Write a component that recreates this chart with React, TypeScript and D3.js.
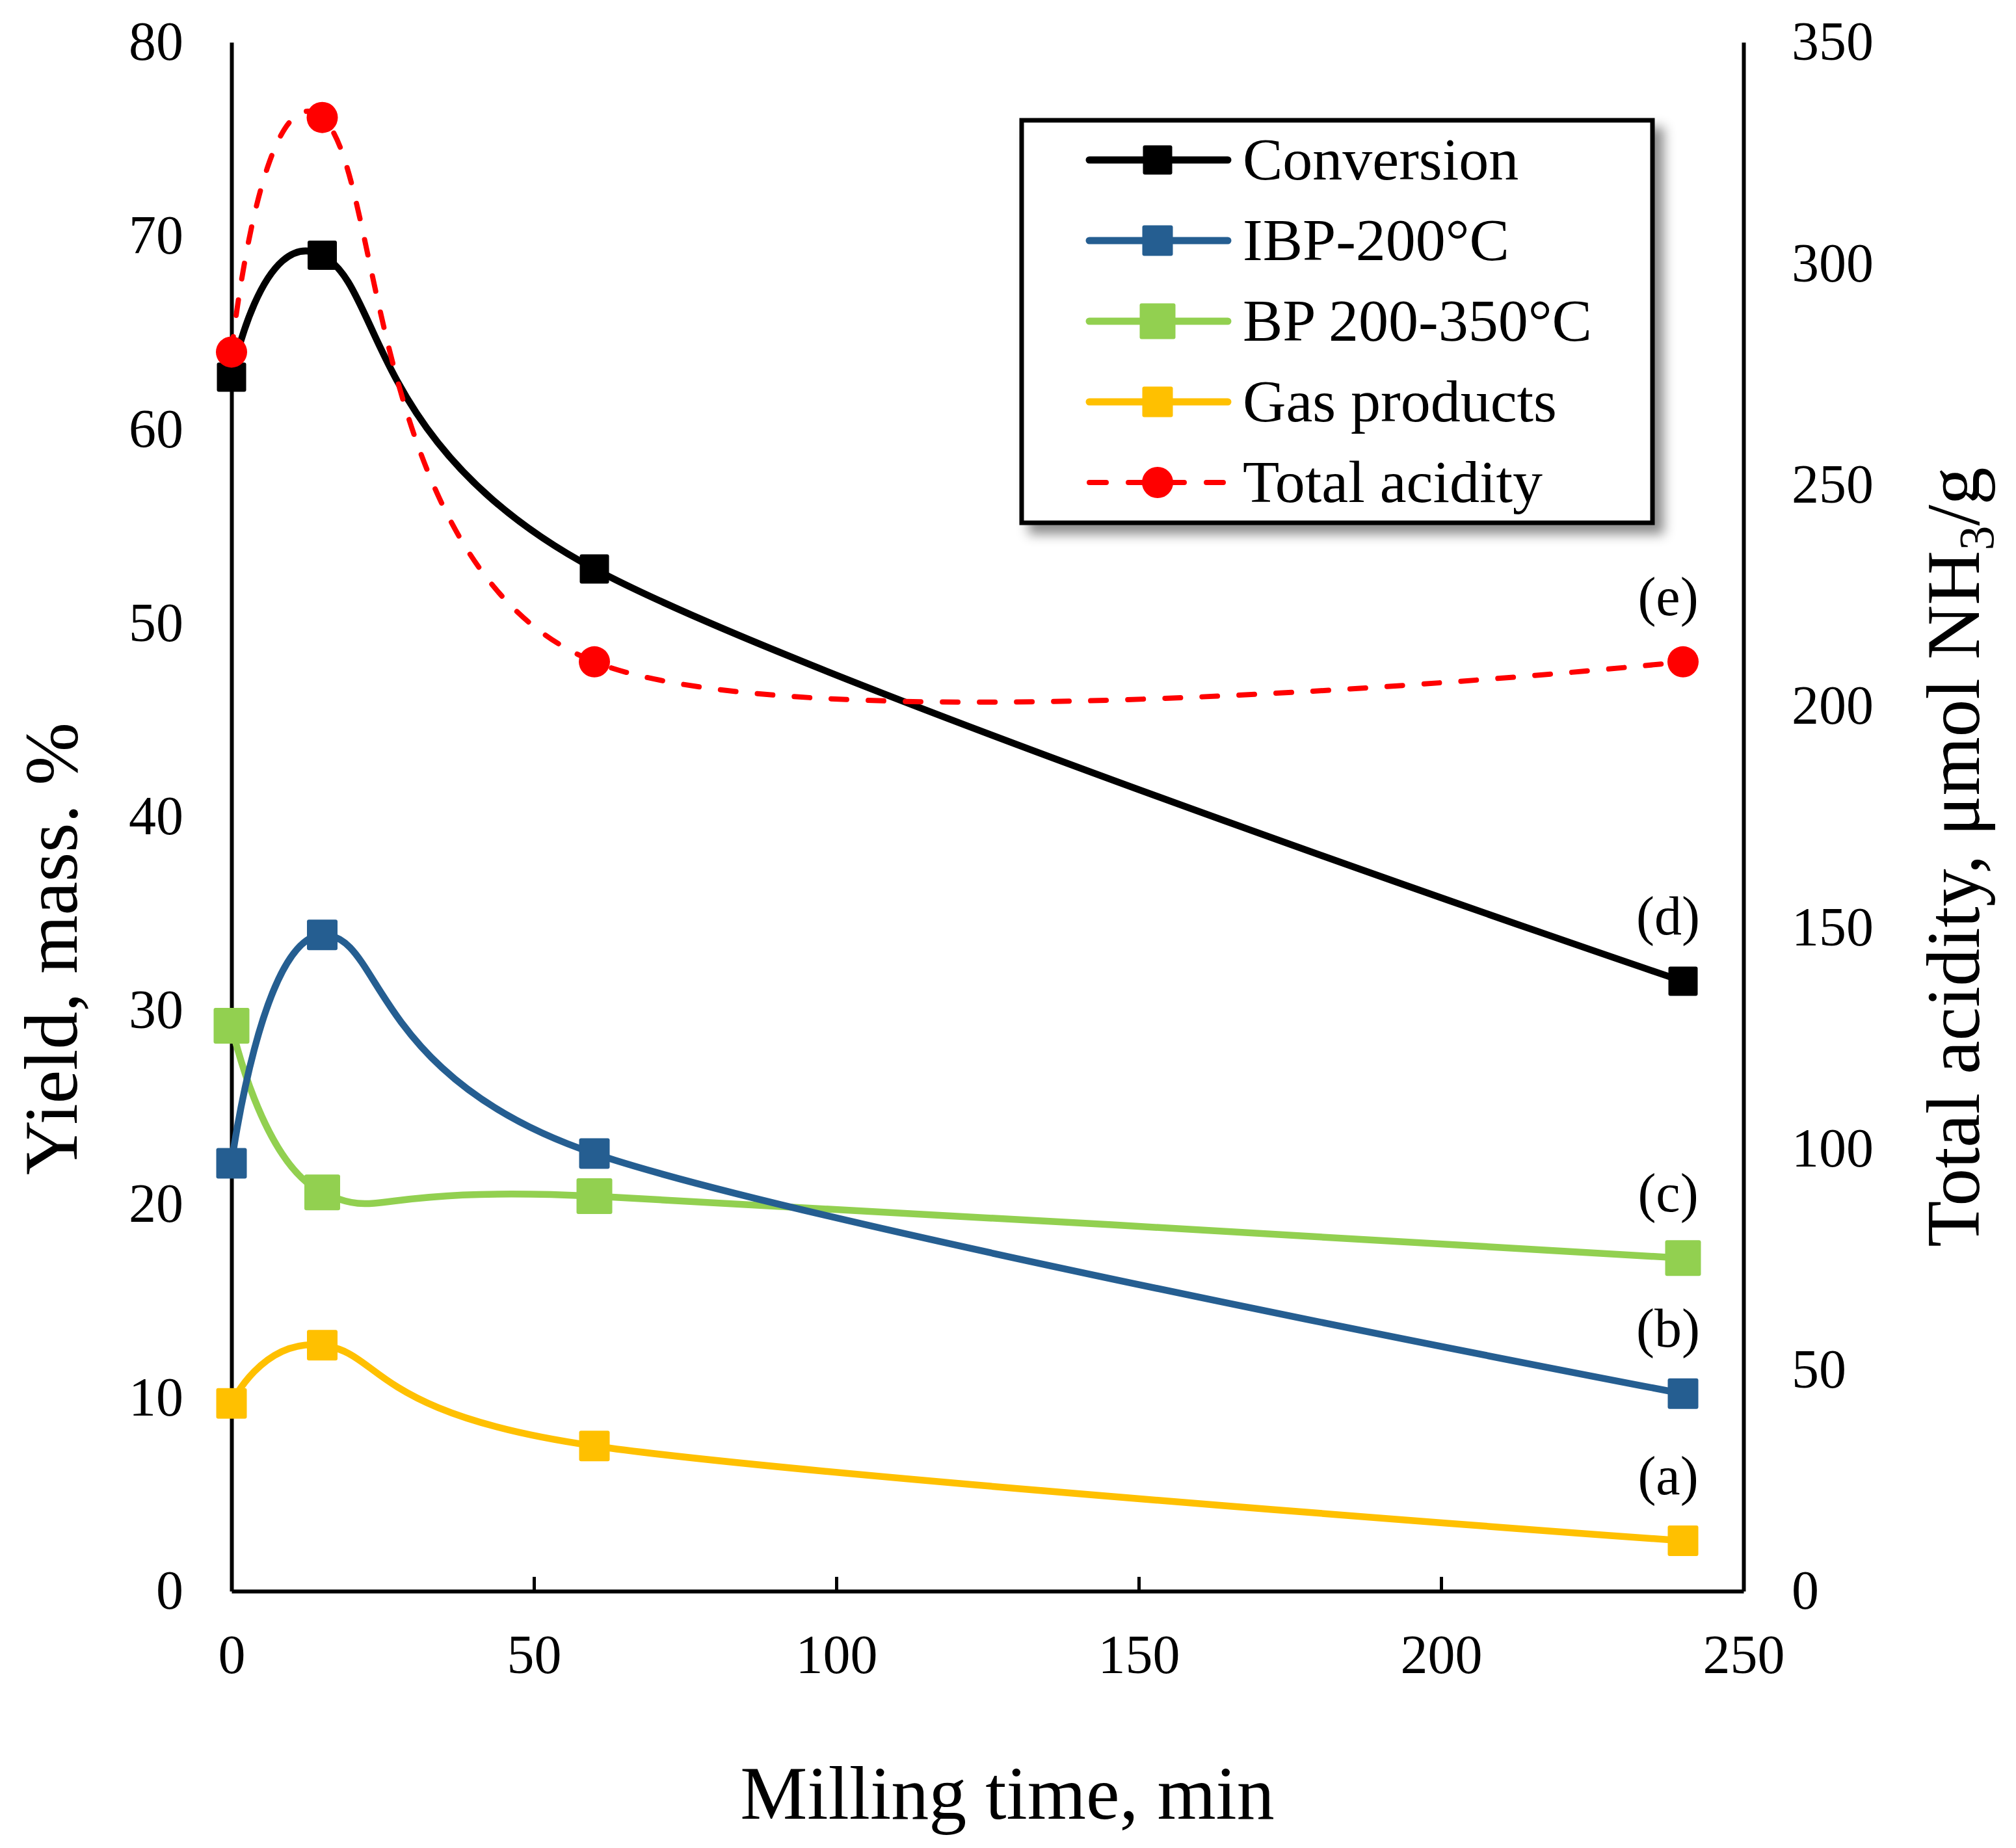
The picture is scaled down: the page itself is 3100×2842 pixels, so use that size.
import React, { useEffect, useRef } from 'react';
import * as d3 from 'd3';

// milling time, min
const millingTime = [0, 15, 60, 240];

// yield, mass. % (left axis)
const conversion = [62.7, 69.0, 52.8, 31.5];
const ibp200 = [22.1, 33.9, 22.6, 10.2];
const bp200350 = [29.2, 20.6, 20.4, 17.2];
const gasProducts = [9.7, 12.7, 7.5, 2.6];

// total acidity, umol NH3/g (right axis)
const totalAcidity = [280, 333, 210, 210];

const xTicks = [0, 50, 100, 150, 200, 250];
const yLeftTicks = [0, 10, 20, 30, 40, 50, 60, 70, 80];
const yRightTicks = [0, 50, 100, 150, 200, 250, 300, 350];

const legendNames = ['Conversion', 'IBP-200°C', 'BP 200-350°C', 'Gas products', 'Total acidity'];
const curveLabels = ['(d)', '(b)', '(c)', '(a)', '(e)'];

const W = 3100;
const H = 2842;
const FONT = '"Liberation Serif", "Times New Roman", serif';

const App: React.FC = () => {
  const svgRef = useRef<SVGSVGElement | null>(null);

  useEffect(() => {
    if (!svgRef.current) return;
    const svg = d3.select(svgRef.current);
    svg.selectAll('*').remove();

    const x = d3.scaleLinear().domain([0, 250]).range([356, 2681]);
    const yL = d3.scaleLinear().domain([0, 80]).range([2447, 65]);
    const yR = d3.scaleLinear().domain([0, 350]).range([2447, 65]);

    const defs = svg.append('defs');
    const f = defs.append('filter').attr('id', 'shadow')
      .attr('x', '-10%').attr('y', '-10%').attr('width', '130%').attr('height', '130%');
    f.append('feDropShadow')
      .attr('dx', 14).attr('dy', 14).attr('stdDeviation', 9)
      .attr('flood-color', '#000').attr('flood-opacity', 0.45);

    // axes
    const styleAxis = (g: any) => {
      g.attr('font-family', FONT).attr('font-size', 84);
      g.select('.domain').attr('stroke-width', 6).attr('stroke', '#000');
      g.selectAll('.tick line').attr('stroke-width', 5);
      g.selectAll('.tick text').attr('fill', '#000');
    };

    svg.append('g')
      .attr('transform', `translate(0,${yL(0)})`)
      .call(d3.axisBottom(x).tickValues(xTicks).tickSizeInner(-22).tickSizeOuter(0).tickPadding(66))
      .call(styleAxis);

    svg.append('g')
      .attr('transform', `translate(${x(0)},0)`)
      .call(d3.axisLeft(yL).tickValues(yLeftTicks).tickSize(0).tickPadding(74))
      .call(styleAxis);

    svg.append('g')
      .attr('transform', `translate(${x(250)},0)`)
      .call(d3.axisRight(yR).tickValues(yRightTicks).tickSize(0).tickPadding(74))
      .call(styleAxis);

    // titles
    svg.append('text')
      .attr('x', 1549).attr('y', 2797)
      .attr('text-anchor', 'middle')
      .attr('font-family', FONT).attr('font-size', 116)
      .text('Milling time, min');

    svg.append('text')
      .attr('transform', 'translate(118,1459) rotate(-90)')
      .attr('text-anchor', 'middle')
      .attr('font-family', FONT).attr('font-size', 116)
      .text('Yield, mass. %');

    const rt = svg.append('text')
      .attr('transform', 'translate(3043,1318) rotate(-90)')
      .attr('text-anchor', 'middle')
      .attr('font-family', FONT).attr('font-size', 116);
    rt.append('tspan').text('Total acidity, μmol NH');
    rt.append('tspan').attr('font-size', 76).attr('dy', 22).text('3');
    rt.append('tspan').attr('dy', -22).text('/g');

    const curve = d3.curveCardinal.tension(0);

    const series = [
      { values: conversion, color: '#000000', size: 45, y: yL },
      { values: ibp200, color: '#255E91', size: 47, y: yL },
      { values: bp200350, color: '#92D050', size: 55, y: yL },
      { values: gasProducts, color: '#FFC000', size: 47, y: yL },
    ];

    // draw from the bottom of the legend up, as Excel does
    [...series].reverse().forEach(s => {
      const pts = millingTime.map((t, i) => [x(t), s.y(s.values[i])] as [number, number]);
      svg.append('path')
        .attr('d', d3.line().curve(curve)(pts))
        .attr('fill', 'none')
        .attr('stroke', s.color)
        .attr('stroke-width', 10.5)
        .attr('stroke-linejoin', 'round');
      svg.append('g').selectAll('rect').data(pts).join('rect')
        .attr('x', d => d[0] - s.size / 2)
        .attr('y', d => d[1] - s.size / 2)
        .attr('width', s.size).attr('height', s.size)
        .attr('rx', 3)
        .attr('fill', s.color);
    });

    // total acidity on secondary axis
    const acidPts = millingTime.map((t, i) => [x(t), yR(totalAcidity[i])] as [number, number]);
    svg.append('path')
      .attr('d', d3.line().curve(curve)(acidPts))
      .attr('fill', 'none')
      .attr('stroke', '#FF0000')
      .attr('stroke-width', 8)
      .attr('stroke-linecap', 'round')
      .attr('stroke-dasharray', '24 33');
    svg.append('g').selectAll('circle').data(acidPts).join('circle')
      .attr('cx', d => d[0]).attr('cy', d => d[1]).attr('r', 24)
      .attr('fill', '#FF0000');

    // curve labels above last points
    const last = millingTime.length - 1;
    const labelY = [
      yL(conversion[last]), yL(ibp200[last]), yL(bp200350[last]),
      yL(gasProducts[last]), yR(totalAcidity[last]),
    ];
    curveLabels.forEach((lab, i) => {
      svg.append('text')
        .attr('x', x(millingTime[last]) - 23)
        .attr('y', labelY[i] - 72)
        .attr('text-anchor', 'middle')
        .attr('font-family', FONT).attr('font-size', 84)
        .text(lab);
    });

    // legend
    const lg = svg.append('g');
    lg.append('rect')
      .attr('x', 1571).attr('y', 185).attr('width', 970).attr('height', 619)
      .attr('fill', '#fff').attr('stroke', '#000').attr('stroke-width', 7)
      .attr('filter', 'url(#shadow)');
    const legendColors = ['#000000', '#255E91', '#92D050', '#FFC000', '#FF0000'];
    legendNames.forEach((name, i) => {
      const cy = 246 + i * 124;
      const isAcid = i === 4;
      lg.append('line')
        .attr('x1', 1675).attr('x2', 1888).attr('y1', cy).attr('y2', cy)
        .attr('stroke', legendColors[i])
        .attr('stroke-width', isAcid ? 8 : 11)
        .attr('stroke-linecap', 'round')
        .attr('stroke-dasharray', isAcid ? '26 34' : null);
      if (isAcid) {
        lg.append('circle').attr('cx', 1780).attr('cy', cy).attr('r', 24).attr('fill', legendColors[i]);
      } else {
        const s = series[i].size;
        lg.append('rect')
          .attr('x', 1780 - s / 2).attr('y', cy - s / 2)
          .attr('width', s).attr('height', s).attr('rx', 3)
          .attr('fill', legendColors[i]);
      }
      lg.append('text')
        .attr('x', 1911).attr('y', cy + 30)
        .attr('font-family', FONT).attr('font-size', 92)
        .text(name);
    });
  }, []);

  return (
    <svg
      ref={svgRef}
      width={W}
      height={H}
      style={{ position: 'absolute', left: 0, top: 0, background: '#fff' }}
    />
  );
};

export default App;
